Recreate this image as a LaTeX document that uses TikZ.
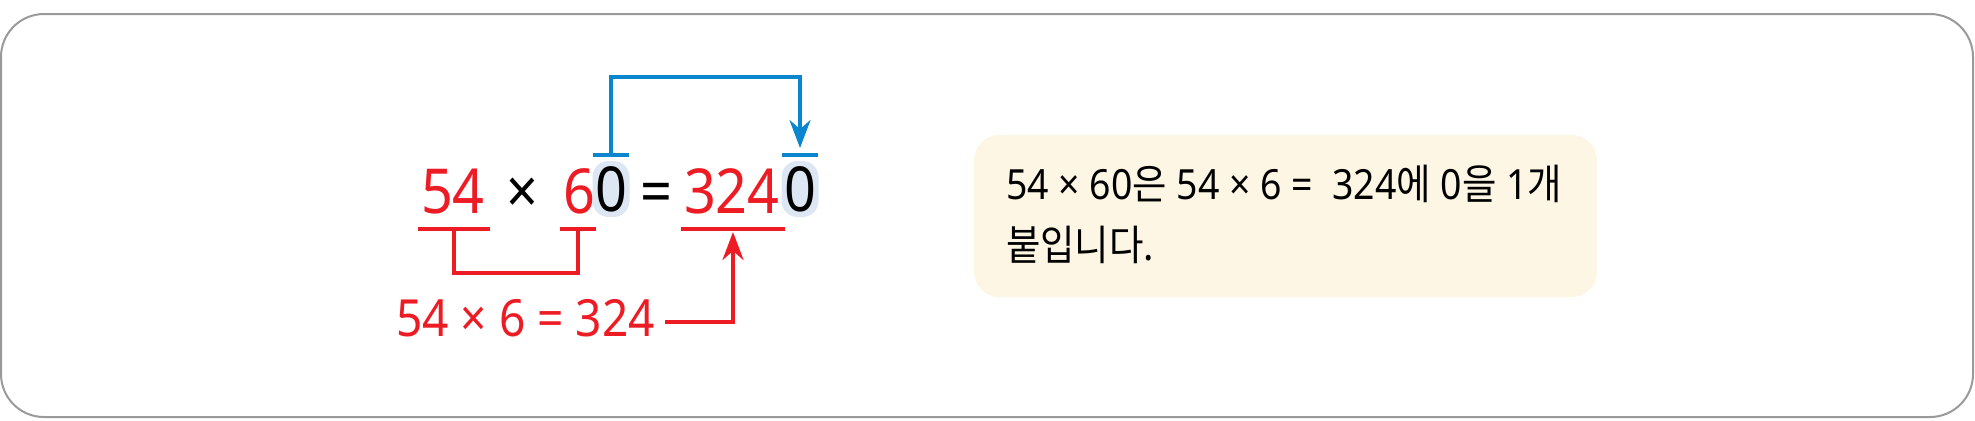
\documentclass[tikz,border=0pt]{standalone}
\usepackage{fontspec}
\setmainfont[FakeStretch=0.9]{Noto Sans}
\newfontfamily\kr[FakeStretch=0.9]{Noto Sans CJK KR}
\usetikzlibrary{arrows.meta}
\definecolor{mred}{HTML}{ED1C24}
\definecolor{mblue}{HTML}{0A86CE}
\definecolor{zerobg}{HTML}{DDE7F4}
\definecolor{notebg}{HTML}{FEF6E4}
\definecolor{framegray}{HTML}{9A9A9A}
\begin{document}
\begin{tikzpicture}[x=0.5pt,y=-0.5pt,
  every node/.style={inner sep=0pt,outer sep=0pt},
  big/.style={font=\fontsize{31}{31}\selectfont,anchor=base west},
  sign/.style={font=\fontsize{31}{31}\selectfont\bfseries,anchor=base west},
  zero/.style={font=\fontsize{31}{31}\selectfont,fill=zerobg,rounded corners=8pt,minimum width=18.5pt,minimum height=28pt},
  bluebar/.style={fill=mblue,minimum height=2pt,minimum width=#1},
  redbar/.style={fill=mred,minimum height=2pt,minimum width=#1},
  redline/.style={draw=mred,line width=2pt},
  blueline/.style={draw=mblue,line width=2pt},
  tip/.style={-{Stealth[length=14pt,width=10.5pt]}}]
  \useasboundingbox (0,0) rectangle (1975,420);
  % Frame
  \draw[framegray,line width=1pt,rounded corners=21.5pt] (1,14) rectangle (1973,417);
  % Equation
  \node (n54) [big,mred] at (421,213) {54};
  \node (x1) [sign] at (506,213) {×};
  \node (n6) [big,mred] at (563,213) {6};
  \node (z1) [zero] at (611,189) {0};
  \node (eq) [sign] at (640,213) {=};
  \node (n324) [big,mred] at (684,213) {324};
  \node (z2) [zero] at (800,189) {0};
  % Blue: the zero is carried over
  \node (t1) [bluebar=18pt] at (611,155) {};
  \node (t2) [bluebar=18pt] at (800,155) {};
  \draw[blueline,tip,shorten >=3.5pt] (t1.center) -- ++(0,-78) -| (t2.center);
  % Red brackets
  \node (b1) [redbar=36pt] at (454,229) {};
  \node (b2) [redbar=18pt] at (578,229) {};
  \node (b3) [redbar=52pt] at (733,229) {};
  \draw[redline] (b1.center) -- ++(0,44) -| (b2.center);
  \node (res) [mred,font=\fontsize{25.6}{25.6}\selectfont,anchor=base west] at (396,336) {54 × 6 = 324};
  \draw[redline,tip,shorten >=1.5pt] ([xshift=5pt,yshift=-2pt]res.east) -| (b3.center);
  % Note
  \node (note) [fill=notebg,rounded corners=12.5pt,minimum width=311.5pt,minimum height=81pt,anchor=north west] at (974,135) {};
  \node (txt1) [font=\fontsize{20.8}{20.8}\selectfont,anchor=base west] at (1006,199) {54 × 60{\kr 은} 54 × 6 =\ \ 324{\kr 에} 0{\kr 을} 1{\kr 개}};
  \node (txt2) [font=\fontsize{20.8}{20.8}\selectfont,anchor=base west] at (1006,260) {\kr 붙입니다.};
\end{tikzpicture}
\end{document}
